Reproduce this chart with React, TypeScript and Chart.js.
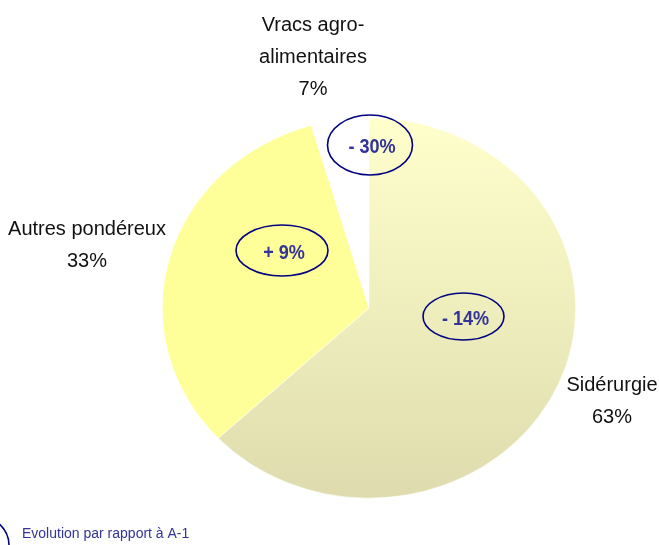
import React, { useEffect, useRef } from "react";
import { Chart, registerables } from "chart.js";

Chart.register(...registerables);

const categories = ["Sidérurgie", "Autres pondéreux", "Vracs agro-alimentaires"];
const labelLines = [["Sidérurgie"], ["Autres pondéreux"], ["Vracs agro-", "alimentaires"]];
const shareLabels = ["63%", "33%", "7%"];
const sliceValues = [63, 32.5, 4.5];
const evolutionLabels = ["- 14%", "+ 9%", "- 30%"];
const legendText = "Evolution par rapport à A-1";

const Y_SCALE = 0.92;

export default function App() {
  const ref = useRef<HTMLCanvasElement | null>(null);

  useEffect(() => {
    document.body.style.margin = "0";
    const canvas = ref.current!;

    const squish = {
      id: "squish",
      beforeDatasetsDraw(chart: any) {
        const a = chart.chartArea;
        const cy = (a.top + a.bottom) / 2;
        const ctx = chart.ctx;
        ctx.save();
        ctx.translate(0, cy);
        ctx.scale(1, Y_SCALE);
        ctx.translate(0, -cy);
      },
      afterDatasetsDraw(chart: any) {
        chart.ctx.restore();
      },
    };

    const annotations = {
      id: "annotations",
      afterDraw(chart: any) {
        const ctx = chart.ctx as CanvasRenderingContext2D;
        ctx.save();
        // category labels
        ctx.fillStyle = "#111111";
        ctx.font = "20px 'Liberation Sans', Arial, sans-serif";
        ctx.textAlign = "center";
        ctx.textBaseline = "alphabetic";
        const labelPos = [
          { x: 612, y: 391 },
          { x: 87, y: 235 },
          { x: 313, y: 31 },
        ];
        labelPos.forEach((p, i) => {
          const lines = [...labelLines[i], shareLabels[i]];
          lines.forEach((t, j) => ctx.fillText(t, p.x, p.y + j * 32));
        });

        // evolution ellipses
        const evo = [
          { x: 463.5, y: 316.5, rx: 40.5, ry: 23.5 },
          { x: 282, y: 250.5, rx: 46, ry: 25.5 },
          { x: 370, y: 145, rx: 42.5, ry: 30 },
        ];
        ctx.strokeStyle = "#000080";
        ctx.lineWidth = 1.6;
        evo.forEach((e, i) => {
          ctx.beginPath();
          ctx.ellipse(e.x, e.y, e.rx, e.ry, 0, 0, Math.PI * 2);
          ctx.stroke();
          ctx.save();
          ctx.translate(e.x + 2, e.y + 8);
          ctx.scale(0.86, 1);
          ctx.fillStyle = "#333399";
          ctx.font = "bold 21px 'Liberation Sans', Arial, sans-serif";
          ctx.textAlign = "center";
          ctx.textBaseline = "alphabetic";
          ctx.fillText(evolutionLabels[i], 0, 0);
          ctx.restore();
        });

        // legend
        ctx.beginPath();
        ctx.ellipse(-30, 545, 39, 32, 0, 0, Math.PI * 2);
        ctx.stroke();
        ctx.fillStyle = "#333399";
        ctx.font = "14px 'Liberation Sans', Arial, sans-serif";
        ctx.textAlign = "left";
        ctx.textBaseline = "alphabetic";
        ctx.fillText(legendText, 22, 538);
        ctx.restore();
      },
    };

    const chart = new Chart(canvas, {
      type: "pie",
      data: {
        labels: categories,
        datasets: [
          {
            data: sliceValues,
            backgroundColor: (c: any) => {
              const ch = c.chart;
              const a = ch.chartArea;
              if (!a) return "#FFFFCC";
              if (c.dataIndex === 0) {
                const g = ch.ctx.createLinearGradient(0, a.top, 0, a.bottom);
                g.addColorStop(0, "#FFFFCC");
                g.addColorStop(1, "#DEDCAE");
                return g;
              }
              if (c.dataIndex === 1) return "#FFFF99";
              return "#FFFFFF";
            },
            borderColor: "#FFFFFF",
            borderWidth: [0.6, 0.6, 0],
          },
        ],
      },
      options: {
        animation: false,
        responsive: false,
        rotation: 0,
        layout: { padding: { left: 162, right: 83, top: 101, bottom: 30 } },
        plugins: {
          legend: { display: false },
          tooltip: { enabled: false },
        },
      },
      plugins: [squish, annotations],
    });
    return () => chart.destroy();
  }, []);

  return (
    <div style={{ width: 659, height: 545, background: "#fff" }}>
      <canvas ref={ref} width={659} height={545} style={{ display: "block" }} />
    </div>
  );
}
